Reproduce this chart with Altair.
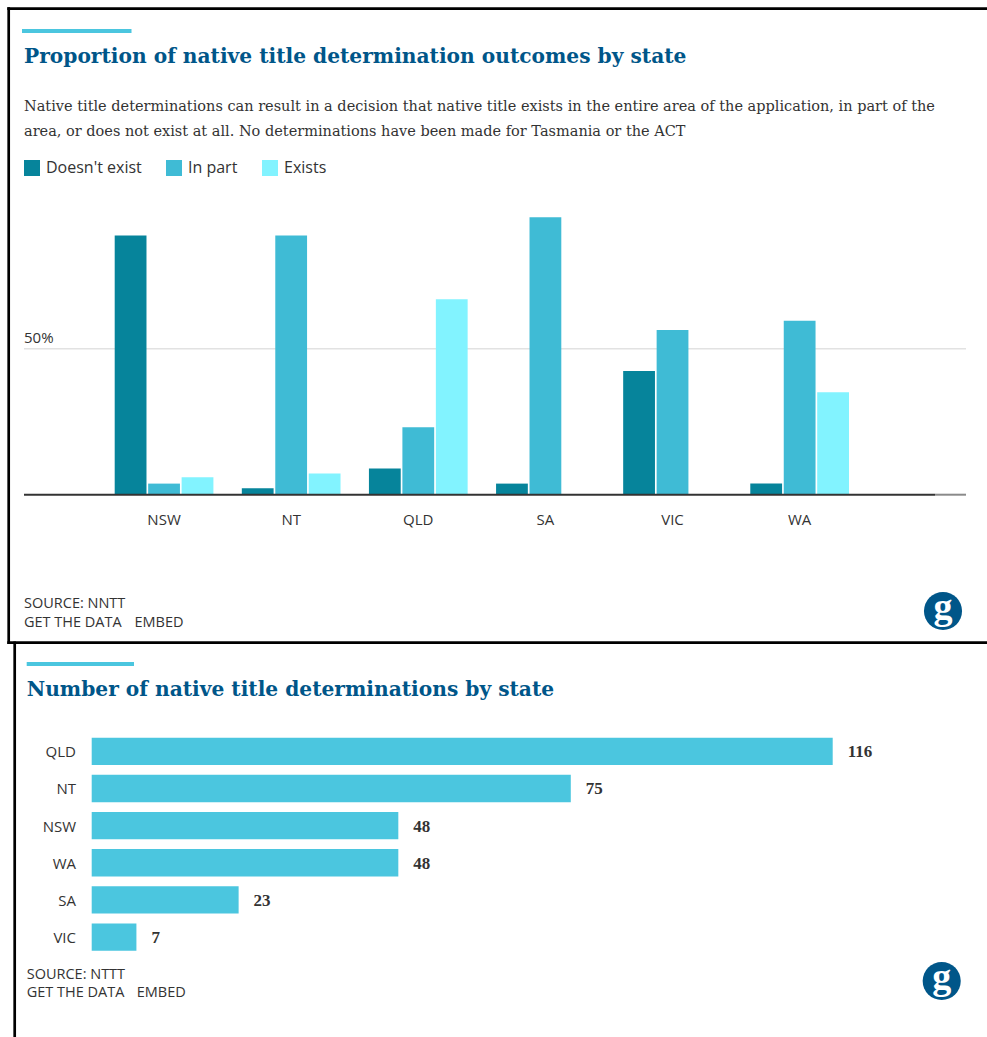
import altair as alt
import pandas as pd

# ---------------- data ----------------
states = ["NSW", "NT", "QLD", "SA", "VIC", "WA"]
outcomes = ["Doesn't exist", "In part", "Exists"]
doesnt_exist = [88.8, 2.2, 9.0, 3.8, 42.4, 3.8]
in_part = [3.8, 88.8, 23.1, 95.0, 56.4, 59.6]
exists = [6.0, 7.3, 66.9, None, None, 35.1]
outcome_colors = ["#06849b", "#3fbbd5", "#82f3ff"]

count_states = ["QLD", "NT", "NSW", "WA", "SA", "VIC"]
counts = [116, 75, 48, 48, 23, 7]

title_top = "Proportion of native title determination outcomes by state"
sub_line1 = ("Native title determinations can result in a decision that native title exists "
             "in the entire area of the application, in part of the")
sub_line2 = "area, or does not exist at all. No determinations have been made for Tasmania or the ACT"
title_bottom = "Number of native title determinations by state"

# ---------------- styles ----------------
SANS = "Open Sans"
SERIF = "Liberation Serif"
SLAB = "DejaVu Serif"
TXT = "#333333"
BLUE = "#005689"
ACCENT = "#4bc6df"

rows = []
for i, s in enumerate(states):
    for o, vals in zip(outcomes, [doesnt_exist, in_part, exists]):
        if vals[i] is not None:
            rows.append({"state": s, "outcome": o, "pct": vals[i]})
top_df = pd.DataFrame(rows)
count_df = pd.DataFrame({"state": count_states, "count": counts})
one = pd.DataFrame({"k": [0]})


def txt(s, x, y, size, font, color, weight="normal", align="left", baseline="alphabetic"):
    return alt.Chart(pd.DataFrame({"t": [s]})).mark_text(
        align=align, baseline=baseline, font=font, fontSize=size,
        fontWeight=weight, color=color
    ).encode(x=alt.value(x), y=alt.value(y), text="t:N")


def hline(x1, x2, y, color, w):
    return alt.Chart(one).mark_rule(color=color, strokeWidth=w).encode(
        x=alt.value(x1), x2=alt.value(x2), y=alt.value(y))


def vline(x, y1, y2, color, w):
    return alt.Chart(one).mark_rule(color=color, strokeWidth=w).encode(
        x=alt.value(x), y=alt.value(y1), y2=alt.value(y2))


def logo(cx, cy):
    circ = alt.Chart(one).mark_point(shape="circle", filled=True, size=1450,
                                     color=BLUE, opacity=1).encode(
        x=alt.value(cx), y=alt.value(cy))
    g = txt("g", cx, cy - 3, 38, SERIF, "white", weight="bold",
            align="center", baseline="middle")
    return circ + g


# ---------------- top chart ----------------
x_top = alt.X("state:N", sort=states, axis=None,
              scale=alt.Scale(domain=states, range=[114.7, 849],
                              paddingInner=0.2235, paddingOuter=0))
y_top = alt.Y("pct:Q", axis=None,
              scale=alt.Scale(domain=[0, 100], range=[494.7, 202.7], nice=False))

grid = alt.Chart(pd.DataFrame({"pct": [50], "label": ["50%"]})).mark_rule(
    color="#e2e2e2", strokeWidth=1.5).encode(y=y_top, x=alt.value(24), x2=alt.value(966))
grid_label = alt.Chart(pd.DataFrame({"pct": [50], "label": ["50%"]})).mark_text(
    align="left", baseline="alphabetic", dy=-6, font=SANS, fontSize=15, color=TXT
).encode(y=y_top, x=alt.value(24), text="label:N")

bars_top = alt.Chart(top_df).mark_bar().encode(
    x=x_top,
    xOffset=alt.XOffset("outcome:N", sort=outcomes,
                        scale=alt.Scale(domain=outcomes, paddingInner=0.05, paddingOuter=0)),
    y=y_top,
    color=alt.Color("outcome:N", sort=outcomes,
                    scale=alt.Scale(domain=outcomes, range=outcome_colors),
                    legend=alt.Legend(title=None, orient="none", legendX=24, legendY=160,
                                      direction="horizontal", symbolType="square",
                                      symbolSize=256, symbolStrokeWidth=0, symbolOpacity=1,
                                      labelFont=SANS, labelFontSize=16, labelColor=TXT,
                                      columnPadding=24, labelOffset=6, padding=0)),
)

base_df = pd.DataFrame({"pct": [0]})
baseline_dark = alt.Chart(base_df).mark_rule(color="#333333", strokeWidth=2).encode(
    y=y_top, x=alt.value(24), x2=alt.value(935))
baseline_light = alt.Chart(base_df).mark_rule(color="#8a8a8a", strokeWidth=2).encode(
    y=y_top, x=alt.value(935), x2=alt.value(966))

x_labels = alt.Chart(pd.DataFrame({"state": states})).mark_text(
    baseline="alphabetic", font=SANS, fontSize=15, color=TXT
).encode(x=x_top, y=alt.value(525), text="state:N")

top = alt.layer(
    grid, grid_label, bars_top, baseline_dark, baseline_light, x_labels,
    hline(22, 131.5, 31, ACCENT, 4),
    txt(title_top, 24, 63, 20.2, SLAB, BLUE, weight="bold"),
    txt(sub_line1, 24, 111, 14.5, SLAB, TXT),
    txt(sub_line2, 24, 136, 14.5, SLAB, TXT),
    txt("SOURCE: NNTT", 24, 608, 14.5, SANS, TXT),
    txt("GET THE DATA", 24, 626.5, 14.5, SANS, TXT),
    txt("EMBED", 134.5, 626.5, 14.5, SANS, TXT),
    logo(943, 611),
)

# ---------------- bottom chart ----------------
x_bot = alt.X("count:Q", axis=None,
              scale=alt.Scale(domain=[0, max(counts)], range=[91.7, 832.7], nice=False))
y_bot = alt.Y("state:N", sort=count_states, axis=None,
              scale=alt.Scale(domain=count_states, range=[737.7, 950.7],
                              paddingInner=0.265, paddingOuter=0))

bars_bot = alt.Chart(count_df).mark_bar(color="#4bc6df").encode(x=x_bot, y=y_bot)
val_labels = alt.Chart(count_df).mark_text(
    align="left", baseline="middle", dx=15, dy=1, font=SERIF, fontSize=17,
    fontWeight="bold", color=TXT
).encode(x=x_bot, y=y_bot, text="count:Q")
cat_labels = alt.Chart(count_df).mark_text(
    align="right", baseline="middle", dy=1, font=SANS, fontSize=15, color=TXT
).encode(x=alt.value(76), y=y_bot, text="state:N")

bottom = alt.layer(
    bars_bot, val_labels, cat_labels,
    hline(26.7, 134, 664, ACCENT, 4),
    txt(title_bottom, 26.7, 696, 20.2, SLAB, BLUE, weight="bold"),
    txt("SOURCE: NTTT", 26.7, 979, 14.5, SANS, TXT),
    txt("GET THE DATA", 26.7, 996.5, 14.5, SANS, TXT),
    txt("EMBED", 136.7, 996.5, 14.5, SANS, TXT),
    logo(941.7, 981),
)

# ---------------- frames ----------------
frames = alt.layer(
    hline(7.3, 987, 8.7, "black", 2.7),
    vline(8.7, 7.3, 644, "black", 2.7),
    hline(7.3, 987, 642.7, "black", 2.7),
    vline(14.7, 641.5, 1037, "black", 2.7),
)

chart = alt.layer(top, bottom, frames).resolve_scale(
    x="independent", y="independent"
).properties(
    width=987, height=1037, autosize="none", padding=0, background="white"
).configure_view(strokeWidth=0)

chart.save("out.html", embed_options={"renderer": "svg", "actions": False})
